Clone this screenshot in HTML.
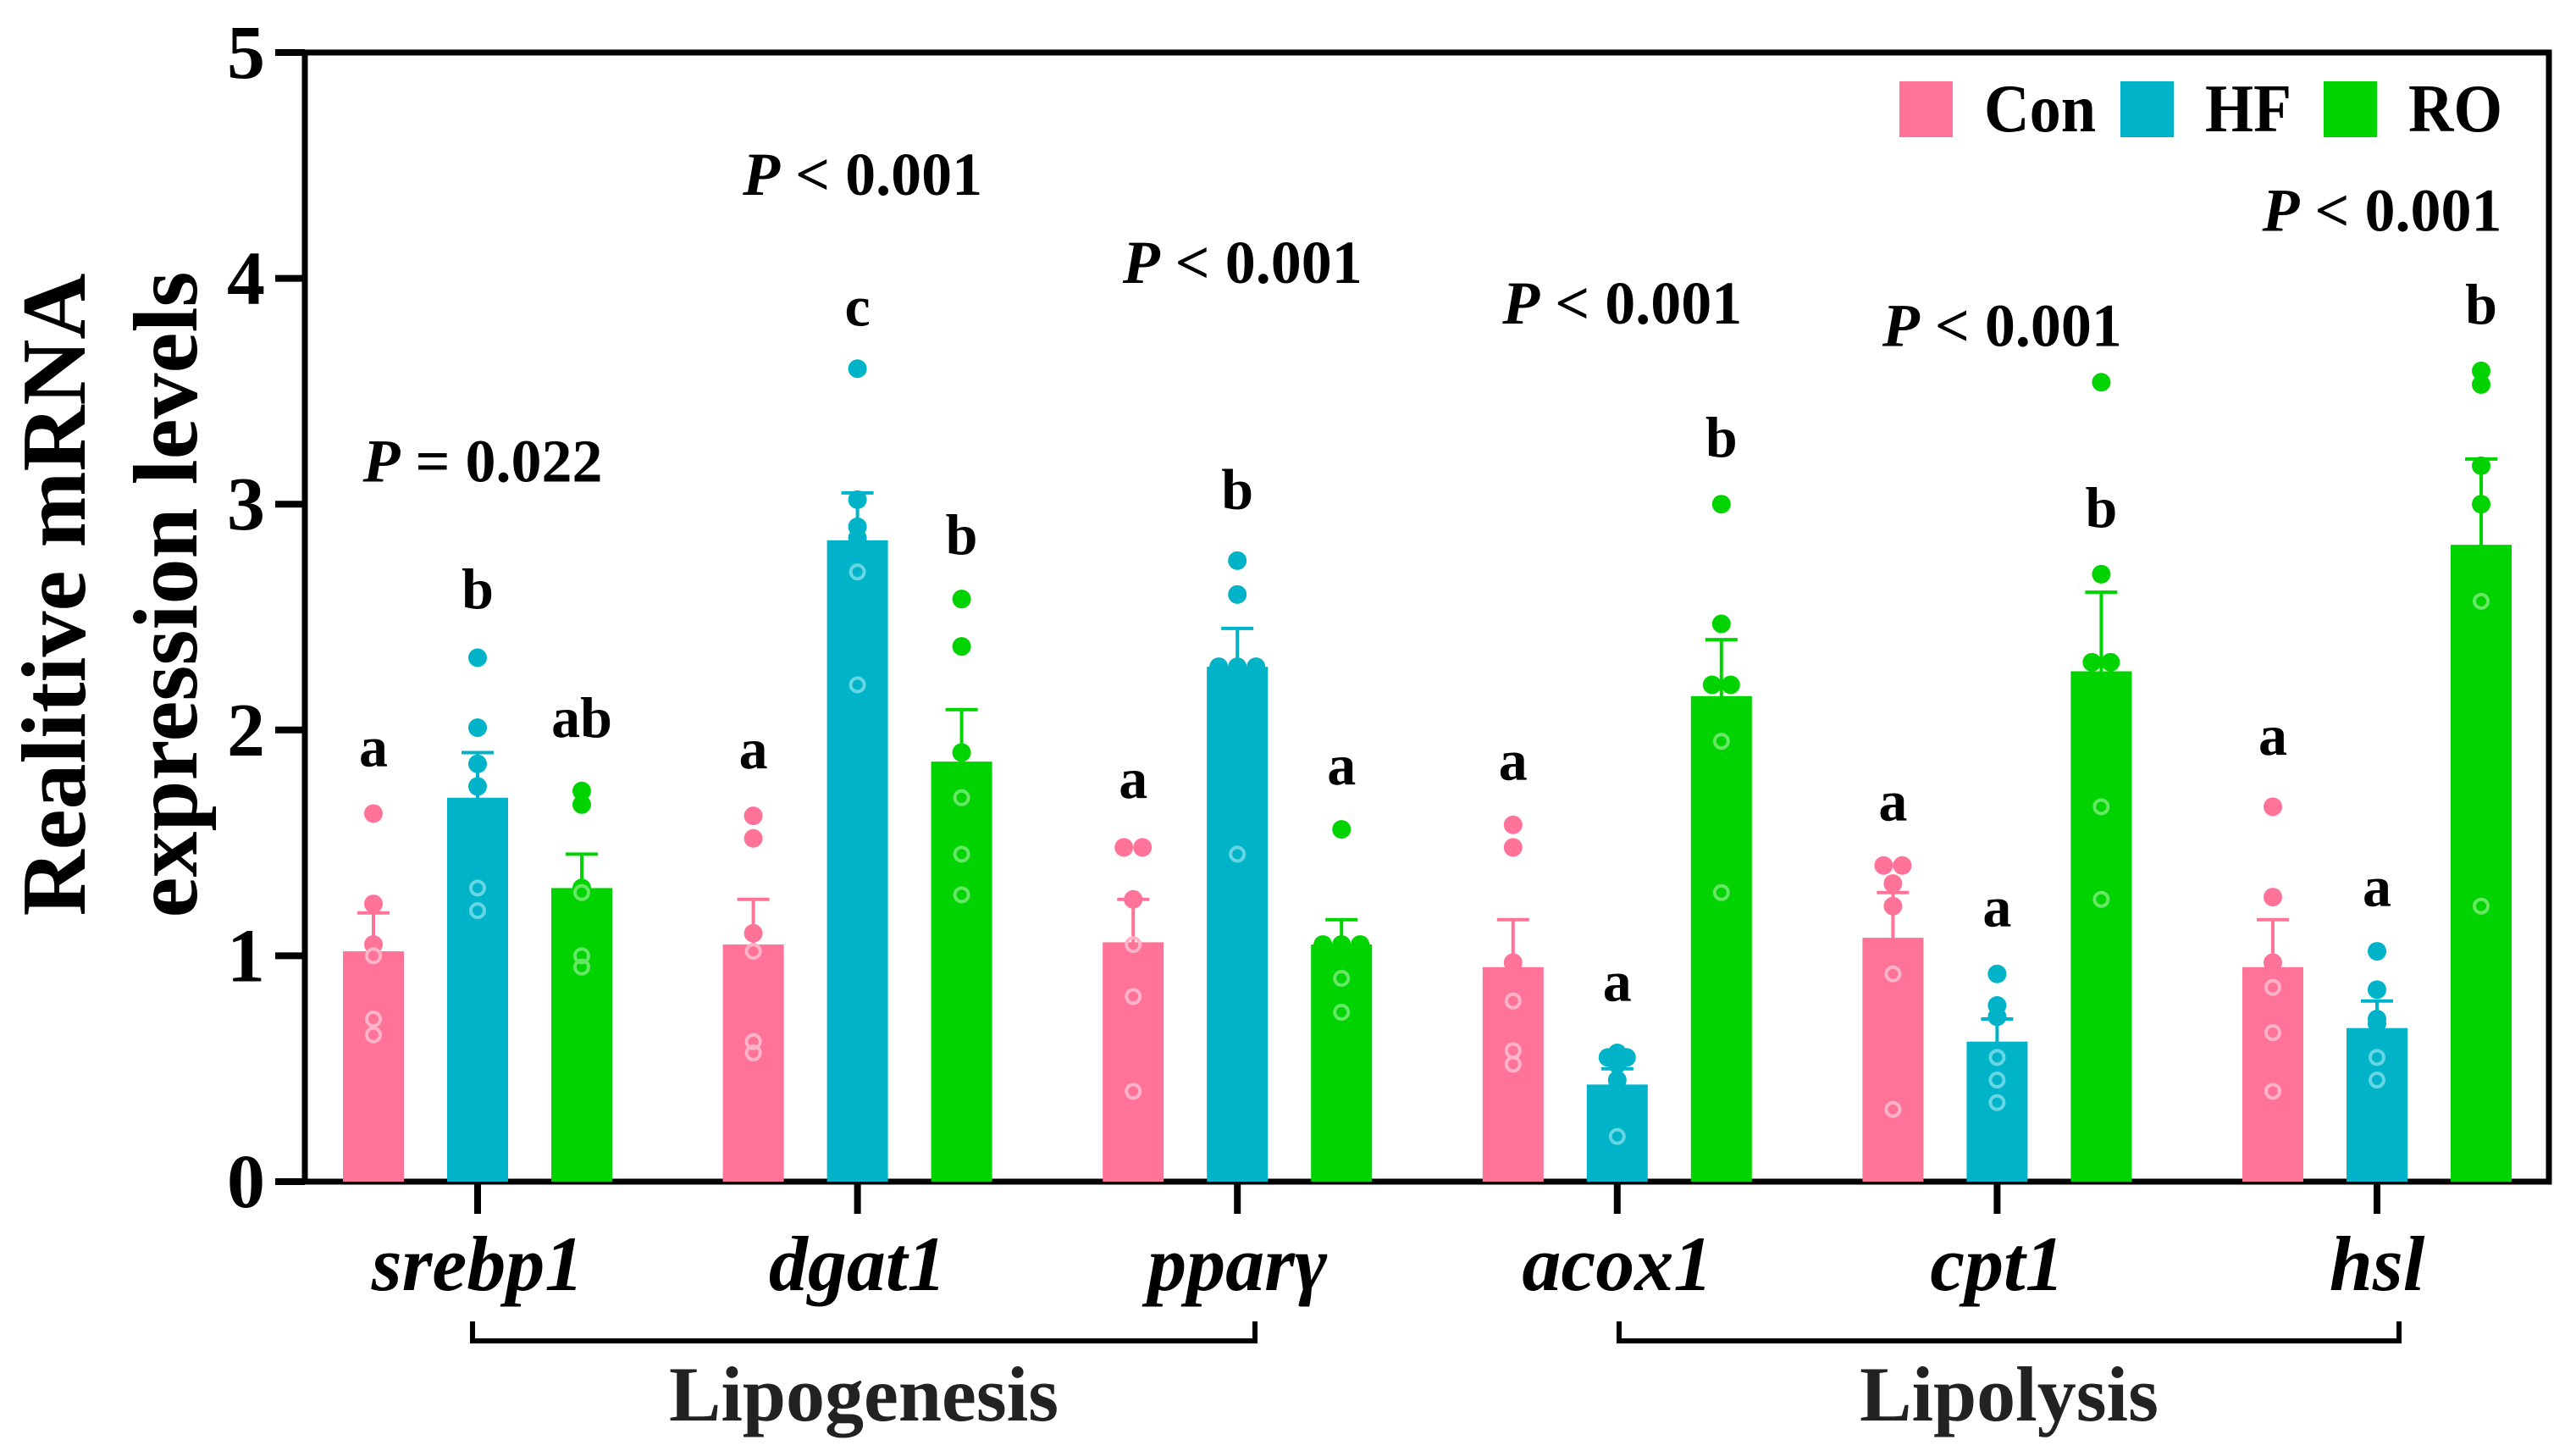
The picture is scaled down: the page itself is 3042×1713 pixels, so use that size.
<!DOCTYPE html>
<html><head><meta charset="utf-8"><style>
html,body{margin:0;padding:0;background:#fff;}
svg{display:block;font-family:"Liberation Serif",serif;}
</style></head><body>
<svg id="chart" width="3042" height="1713" viewBox="0 0 3042 1713" xmlns="http://www.w3.org/2000/svg">
<g id="frame"></g>
<g id="marks"></g>
<g id="ann"></g>
</svg>
<script>
const genes = ["srebp1","dgat1","pparγ","acox1","cpt1","hsl"];
const groups = ["Con","HF","RO"];
const meanCon = [1.02,1.05,1.06,0.95,1.08,0.95];
const meanHF  = [1.70,2.84,2.28,0.43,0.62,0.68];
const meanRO  = [1.30,1.86,1.05,2.15,2.26,2.82];
const semCon = [0.17,0.20,0.19,0.21,0.20,0.21];
const semHF  = [0.20,0.21,0.17,0.07,0.10,0.12];
const semRO  = [0.15,0.23,0.11,0.25,0.35,0.38];
const ptsCon = [[1.63,1.23,1.05,1.0,0.72,0.65],[1.62,1.52,1.10,1.02,0.62,0.57],[1.48,1.48,1.25,1.05,0.82,0.40],[1.58,1.48,0.97,0.80,0.58,0.52],[1.40,1.40,1.32,1.22,0.92,0.32],[1.66,1.26,0.97,0.86,0.66,0.40]];
const ptsHF  = [[2.32,2.01,1.85,1.75,1.3,1.2],[3.6,3.02,2.9,2.85,2.7,2.2],[2.75,2.6,2.28,2.28,2.28,1.45],[0.57,0.55,0.55,0.52,0.45,0.20],[0.92,0.78,0.73,0.55,0.45,0.35],[1.02,0.85,0.72,0.70,0.55,0.45]];
const ptsRO  = [[1.73,1.67,1.3,1.28,1.0,0.95],[2.58,2.37,1.9,1.7,1.45,1.27],[1.56,1.05,1.05,1.05,0.9,0.75],[3.0,2.47,2.2,2.2,1.95,1.28],[3.54,2.69,2.3,2.3,1.66,1.25],[3.59,3.53,3.17,3.0,2.57,1.22]];
const lettersCon = ["a","a","a","a","a","a"];
const lettersHF  = ["b","c","b","a","a","a"];
const lettersRO  = ["ab","b","a","b","b","b"];
const letterLevelCon = [1.84,1.83,1.70,1.78,1.60,1.89];
const letterLevelHF  = [2.54,3.79,2.98,0.80,1.13,1.22];
const letterLevelRO  = [1.97,2.78,1.76,3.21,2.90,3.80];
const pLabels = ["= 0.022","< 0.001","< 0.001","< 0.001","< 0.001","< 0.001"];
const pLevels = [3.10,4.37,3.98,3.80,3.70,4.21];
const yTicks = [0,1,2,3,4,5];

const NS="http://www.w3.org/2000/svg";
const colors=["#ff7399","#00b3c8","#00d300"];
const light=["#ffb3c8","#66d6e3","#66e866"];
const X0=360,X1=3010,Y0=1395,YT=62;
const y=v=>Y0-(v/5)*(Y0-YT);
const gx=i=>564+i*448.6;
const bx=(i,j)=>gx(i)+(j-1)*123;
const BW=72;
function el(tag,attrs,parent,text){const e=document.createElementNS(NS,tag);for(const k in attrs)e.setAttribute(k,attrs[k]);if(text!==undefined)e.textContent=text;parent.appendChild(e);return e;}
const frame=document.getElementById('frame'),marks=document.getElementById('marks'),ann=document.getElementById('ann');
const means=[meanCon,meanHF,meanRO],sems=[semCon,semHF,semRO],pts=[ptsCon,ptsHF,ptsRO],lets=[lettersCon,lettersHF,lettersRO],letLv=[letterLevelCon,letterLevelHF,letterLevelRO];

genes.forEach((g,i)=>{
  for(let j=0;j<3;j++){
    const m=means[j][i],s=sems[j][i],cx=bx(i,j);
    const b=el('rect',{x:cx-BW/2,y:y(m),width:BW,height:Y0-y(m),fill:colors[j]},marks);
    
    
    const eb=el('path',{d:`M${cx},${y(m-s)}V${y(m+s)}M${cx-19},${y(m+s)}H${cx+19}M${cx-19},${y(m-s)}H${cx+19}`,stroke:colors[j],'stroke-width':4,fill:'none'},marks);
    
    
    const seen={};
    pts[j][i].forEach(v=>{
      const k=v.toFixed(2);seen[k]=(seen[k]||0)+1;
      const n=pts[j][i].filter(w=>w.toFixed(2)===k).length;
      const off=(seen[k]-1-(n-1)/2)*22;
      const inside=v<m;
      const c=el('circle',{cx:cx+off,cy:y(v),r:inside?8:11,fill:inside?'none':colors[j],stroke:inside?light[j]:colors[j],'stroke-width':inside?4:0},marks);
      
      
    });
    const t=el('text',{x:cx,y:y(letLv[j][i]),'text-anchor':'middle','font-size':68,'font-weight':'bold'},ann,lets[j][i]);
    
    
  }
  const tk=el('line',{x1:gx(i),x2:gx(i),y1:Y0,y2:1433,stroke:'#000','stroke-width':8},frame);
  
  
  const gl=el('text',{x:gx(i),y:1523,'text-anchor':'middle','font-size':92,'font-weight':'bold','font-style':'italic'},ann,g);
  
  
  const pt=el('text',{x:gx(i)+6,y:y(pLevels[i]),'text-anchor':'middle','font-size':72,'font-weight':'bold'},ann);
  
  
  el('tspan',{'font-style':'italic'},pt,'P');
  el('tspan',{},pt,' '+pLabels[i]);
});

yTicks.forEach(v=>{
  const l=el('line',{x1:325,x2:X0,y1:y(v),y2:y(v),stroke:'#000','stroke-width':8},frame);
  
  
  const t=el('text',{x:313,y:y(v)+30,'text-anchor':'end','font-size':90,'font-weight':'bold'},frame,String(v));
  
  
});
const box=el('rect',{x:X0,y:YT,width:X1-X0,height:Y0-YT,fill:'none',stroke:'#000','stroke-width':7},frame);



const yt=el('text',{transform:'translate(100,702) rotate(-90)','text-anchor':'middle','font-size':108,'font-weight':'bold'},frame,'Realitive mRNA');


const yt2=el('text',{transform:'translate(232,702) rotate(-90)','text-anchor':'middle','font-size':108,'font-weight':'bold'},frame,'expression levels');



[[558,1482,'Lipogenesis'],[1912,2833,'Lipolysis']].forEach(([a,b,n])=>{
  const p=el('path',{d:`M${a},1560V1583H${b}V1560`,stroke:'#000','stroke-width':6,fill:'none'},ann);
  
  
  const t=el('text',{x:(a+b)/2,y:1677,'text-anchor':'middle','font-size':92,'font-weight':'bold',fill:'#222'},ann,n);
  
  
});

const lx=[2243,2504,2744];
const lw=[132,102,111];
groups.forEach((g,j)=>{
  const r=el('rect',{x:lx[j],y:96,width:63,height:66,fill:colors[j]},ann);
  
  
  const t=el('text',{x:lx[j]+100,y:155,'font-size':80,'font-weight':'bold',textLength:lw[j],lengthAdjust:'spacingAndGlyphs'},ann,g);
  
  
});
</script>
</body></html>
